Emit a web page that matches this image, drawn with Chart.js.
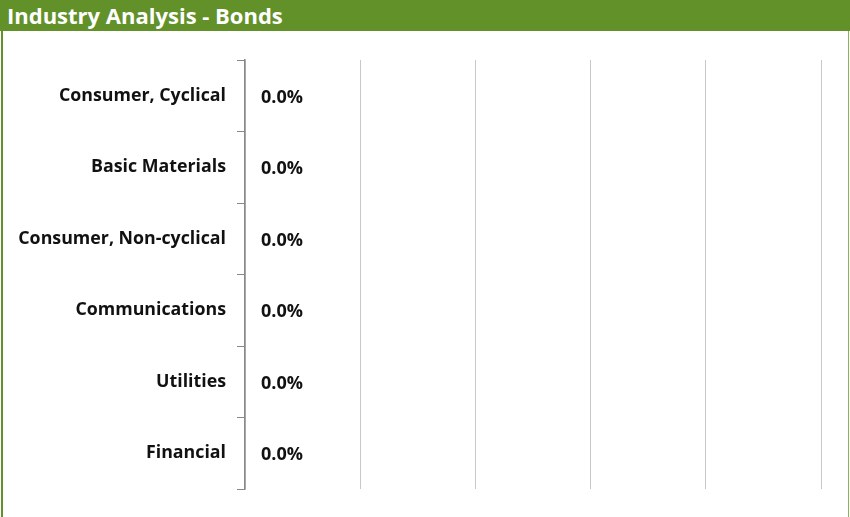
<!DOCTYPE html>
<html>
<head>
<meta charset="utf-8">
<script src="https://cdn.jsdelivr.net/npm/chart.js@4/dist/chart.umd.min.js"></script>
<style>
  html, body { margin:0; padding:0; background:#fff; }
  #wrap { position:relative; width:850px; height:517px; overflow:hidden; }
  #hdr { position:absolute; left:0; top:0; width:850px; height:31px; background:#62912a;
         color:#fff; font:bold 22px "Open Sans", sans-serif; line-height:30px; padding-left:7px; box-sizing:border-box; }
  #lb { position:absolute; left:1px; top:31px; width:2px; height:486px; background:#62912a; }
  #rb { position:absolute; left:848px; top:31px; width:1px; height:486px; background:#8ab35a; }
  canvas { position:absolute; left:0; top:0; }
</style>
</head>
<body>
<div id="wrap">
  <canvas id="c" width="850" height="517"></canvas>
  <div id="hdr">Industry Analysis - Bonds</div>
  <div id="lb"></div>
  <div id="rb"></div>
</div>
<script>
const categories = ["Consumer, Cyclical", "Basic Materials", "Consumer, Non-cyclical", "Communications", "Utilities", "Financial"];
const values = [0, 0, 0, 0, 0, 0];
const xMin = 0, xMax = 100, xStep = 20;

const labelPlugin = {
  id: 'valLabels',
  afterDatasetsDraw(chart) {
    const ctx = chart.ctx;
    const meta = chart.getDatasetMeta(0);
    ctx.save();
    ctx.font = 'bold 18px "Open Sans", sans-serif';
    ctx.fillStyle = '#111';
    ctx.textBaseline = 'middle';
    ctx.textAlign = 'left';
    meta.data.forEach((el, i) => {
      const v = chart.data.datasets[0].data[i];
      ctx.fillText(v.toFixed(1) + '%', el.x + 16, el.y + 2);
    });
    ctx.restore();
  }
};

new Chart(document.getElementById('c'), {
  type: 'bar',
  data: { labels: categories, datasets: [{ data: values, backgroundColor: '#62912a' }] },
  options: {
    indexAxis: 'y',
    responsive: false,
    animation: false,
    layout: { padding: { top: 60, bottom: 28, right: 29, left: 0 } },
    plugins: { legend: { display: false }, tooltip: { enabled: false } },
    scales: {
      x: {
        min: xMin, max: xMax,
        ticks: { display: false, stepSize: xStep },
        grid: { color: '#c8c8c8', lineWidth: 1, drawTicks: false },
        border: { display: false },
        afterFit(s) { s.height = 0; }
      },
      y: {
        ticks: { color: '#111', padding: 11, font: { family: '"Open Sans", sans-serif', size: 17.8, weight: 'bold' } },
        grid: { offset: true, drawOnChartArea: false, tickLength: 8, color: '#888', lineWidth: 1 },
        border: { color: '#888', width: 1.5 },
        afterFit(s) { s.width = 245; }
      }
    }
  },
  plugins: [labelPlugin]
});
</script>
</body>
</html>
